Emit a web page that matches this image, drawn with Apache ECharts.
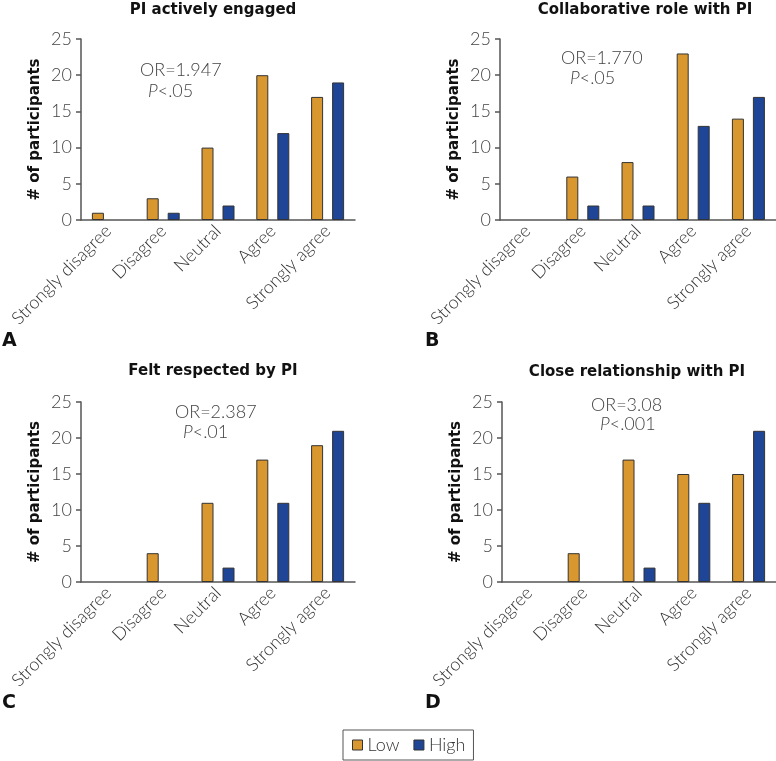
<!DOCTYPE html>
<html>
<head>
<meta charset="utf-8">
<script src="https://cdn.jsdelivr.net/npm/echarts@6/dist/echarts.min.js"></script>
<style>html,body{margin:0;padding:0;background:#fff}#c{width:776px;height:761px}</style>
</head>
<body>
<div id="c"></div>
<script>
const categories = ['Strongly disagree', 'Disagree', 'Neutral', 'Agree', 'Strongly agree'];
const yTicks = [0, 5, 10, 15, 20, 25];
const panelTitles = ['PI actively engaged', 'Collaborative role with PI', 'Felt respected by PI', 'Close relationship with PI'];
const panelLetters = ['A', 'B', 'C', 'D'];
const orValues = ['OR=1.947', 'OR=1.770', 'OR=2.387', 'OR=3.08'];
const pValues = ['<.05', '<.05', '<.01', '<.001'];
const lowA = [1, 3, 10, 20, 17];
const highA = [0, 1, 2, 12, 19];
const lowB = [0, 6, 8, 23, 14];
const highB = [0, 2, 2, 13, 17];
const lowC = [0, 4, 11, 17, 19];
const highC = [0, 0, 2, 11, 21];
const lowD = [0, 4, 17, 15, 15];
const highD = [0, 0, 2, 11, 21];
const lowSets = [lowA, lowB, lowC, lowD];
const highSets = [highA, highB, highC, highD];

const LIGHT = 'Lato';
const BOLD = '"DejaVu Sans"';
const grids = [
  {left: 81, top: 39, width: 274, height: 181},
  {left: 500, top: 39, width: 276, height: 181},
  {left: 81, top: 402, width: 274, height: 180},
  {left: 502, top: 402, width: 276, height: 180}
];
const titlePos = [[213, 10], [645, 10], [213, 371], [637, 372]];
const letterPos = [[2, 341], [425, 341], [2, 703], [425, 703]];
const orPos = [[140, 70], [561, 58], [175, 412], [591, 405]];
const pPos = [[148, 91], [570, 78], [183, 432], [600, 424]];

const orange = '#D9972F', blue = '#1F4597';
const xAxis = [], yAxis = [], series = [], graphic = [];
grids.forEach((g, i) => {
  xAxis.push({
    type: 'category', gridIndex: i, data: categories,
    axisLine: {lineStyle: {color: '#555', width: 1.5}},
    axisTick: {alignWithLabel: true, length: 5, lineStyle: {color: '#555', width: 1.5}, interval: 0},
    axisLabel: {rotate: 45, interval: 0, margin: 8, fontFamily: LIGHT, fontWeight: 300, fontSize: 18, color: '#333'}
  });
  yAxis.push({
    type: 'value', gridIndex: i, min: 0, max: 25, interval: 5,
    name: '# of participants', nameLocation: 'middle', nameGap: 38,
    nameTextStyle: {fontFamily: BOLD, fontWeight: 'bold', fontSize: 15, color: '#111'},
    axisLine: {show: true, lineStyle: {color: '#555', width: 1.5}},
    axisTick: {show: true, length: 5, lineStyle: {color: '#555', width: 1.5}},
    splitLine: {show: false},
    axisLabel: {margin: 9, fontFamily: LIGHT, fontWeight: 300, fontSize: 18, color: '#444',
      formatter: v => yTicks.includes(v) ? String(v) : ''}
  });
  series.push({
    name: 'Low', type: 'bar', xAxisIndex: i, yAxisIndex: i, barWidth: 12, barGap: '75%',
    data: lowSets[i].map(v => v === 0 ? null : v),
    itemStyle: {color: orange, borderColor: '#333', borderWidth: 1}
  });
  series.push({
    name: 'High', type: 'bar', xAxisIndex: i, yAxisIndex: i, barWidth: 12, barGap: '75%',
    data: highSets[i].map(v => v === 0 ? null : v),
    itemStyle: {color: blue, borderColor: '#333', borderWidth: 1}
  });
  graphic.push({type: 'text', x: titlePos[i][0], y: titlePos[i][1],
    style: {text: panelTitles[i], fontFamily: BOLD, fontWeight: 'bold', fontSize: 15, fill: '#111', align: 'center', verticalAlign: 'middle'}});
  graphic.push({type: 'text', x: letterPos[i][0], y: letterPos[i][1],
    style: {text: panelLetters[i], fontFamily: BOLD, fontWeight: 'bold', fontSize: 19, fill: '#111', align: 'left', verticalAlign: 'middle'}});
  graphic.push({type: 'text', x: orPos[i][0], y: orPos[i][1],
    style: {text: orValues[i], fontFamily: LIGHT, fontWeight: 300, fontSize: 18, fill: '#444', align: 'left', verticalAlign: 'middle'}});
  graphic.push({type: 'text', x: pPos[i][0], y: pPos[i][1],
    style: {text: '{i|P}' + pValues[i], fontFamily: LIGHT, fontWeight: 300, fontSize: 18, fill: '#444', align: 'left', verticalAlign: 'middle',
      rich: {i: {fontStyle: 'italic', fontFamily: LIGHT, fontWeight: 300, fontSize: 18, fill: '#444'}}}});
});

const chart = echarts.init(document.getElementById('c'), null, {renderer: 'canvas'});
chart.setOption({
  animation: false,
  grid: grids,
  xAxis, yAxis, series, graphic,
  legend: {
    data: ['Low', 'High'], left: 343, top: 730, orient: 'horizontal',
    padding: [6, 8, 6, 9], itemGap: 14, itemWidth: 10, itemHeight: 10,
    borderColor: '#555', borderWidth: 1, icon: 'rect',
    itemStyle: {borderColor: '#333', borderWidth: 1},
    textStyle: {fontFamily: LIGHT, fontWeight: 300, fontSize: 18, color: '#333'}
  }
});
</script>
</body>
</html>
